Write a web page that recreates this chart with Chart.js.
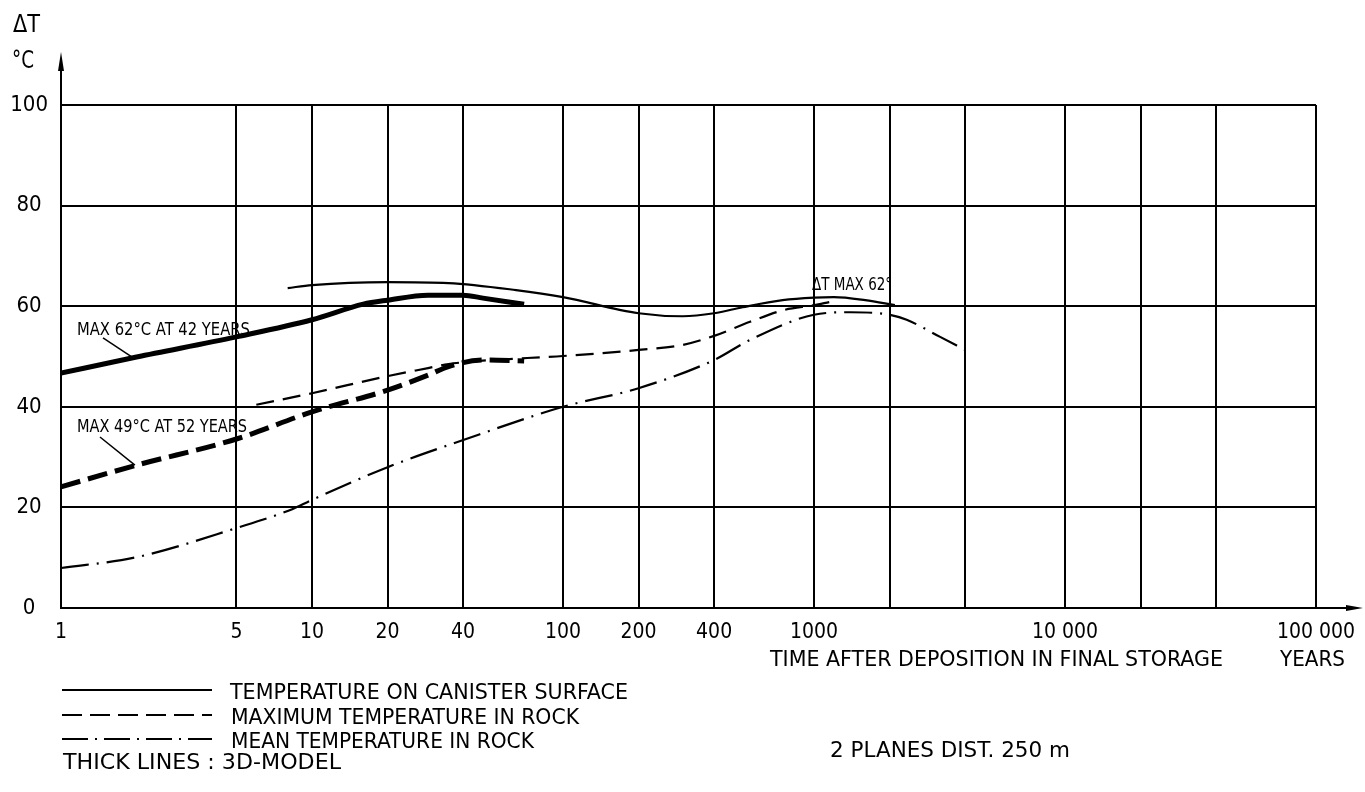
<!DOCTYPE html>
<html><head><meta charset="utf-8">
<script src="https://cdn.jsdelivr.net/npm/chart.js@4.4.1/dist/chart.umd.min.js"></script>
<style>
html,body{margin:0;padding:0;background:#fff;}
#wrap{position:relative;width:1365px;height:792px;overflow:hidden;background:#fff;}
#c{position:absolute;left:0;top:0;}
.t{position:absolute;color:#000;white-space:nowrap;line-height:1;transform-origin:0 50%;}
</style></head><body>
<div id="wrap">
<canvas id="c" width="1365" height="792"></canvas>
<div class="t" style="left:13px;top:12px;font-size:24px" data-w="27">ΔT</div>
<div class="t" style="left:12px;top:48px;font-size:24px" data-w="22">°C</div>
<div class="t" style="left:77px;top:320px;font-size:18px" data-w="173">MAX 62°C AT 42 YEARS</div>
<div class="t" style="left:77px;top:417px;font-size:18px" data-w="170">MAX 49°C AT 52 YEARS</div>
<div class="t" style="left:812px;top:275px;font-size:18px" data-w="80">ΔT MAX 62°</div>
<div class="t" style="left:770px;top:649px;font-size:21px" data-w="453">TIME AFTER DEPOSITION IN FINAL STORAGE</div>
<div class="t" style="left:1280px;top:649px;font-size:21px" data-w="65">YEARS</div>
<div class="t" style="left:230px;top:682px;font-size:21px" data-w="398">TEMPERATURE ON CANISTER SURFACE</div>
<div class="t" style="left:231px;top:707px;font-size:21px" data-w="348">MAXIMUM TEMPERATURE IN ROCK</div>
<div class="t" style="left:231px;top:731px;font-size:21px" data-w="303">MEAN TEMPERATURE IN ROCK</div>
<div class="t" style="left:63px;top:752px;font-size:21px" data-w="278">THICK LINES : 3D-MODEL</div>
<div class="t" style="left:830px;top:740px;font-size:21px" data-w="240">2 PLANES DIST. 250 m</div>
</div>
<script>
// ---------- DATA ----------
const surface2DYears = [8, 10, 20, 35, 65, 100, 200, 300, 400, 520, 750, 1000, 1200, 1600, 2100];
const surface2DTemp  = [63.6, 64.2, 64.8, 64.6, 63.2, 61.8, 58.6, 58.0, 58.6, 59.8, 61.2, 61.7, 61.8, 61.2, 60.2];

const surface3DYears = [1, 2, 5, 10, 16, 20, 29, 40, 48, 70];
const surface3DTemp  = [46.7, 49.9, 53.9, 57.3, 60.4, 61.2, 62.2, 62.2, 61.6, 60.4];

const maxRock2DYears = [6, 10, 20, 29, 35, 72, 100, 200, 300, 400, 556, 753, 1000, 1150];
const maxRock2DTemp  = [40.4, 42.7, 46.1, 47.7, 48.5, 49.7, 50.1, 51.3, 52.3, 54.1, 56.9, 59.2, 60.2, 60.8];

const maxRock3DYears = [1, 2, 5, 10, 20, 29, 35, 48, 70];
const maxRock3DTemp  = [24.1, 28.4, 33.6, 39.0, 43.3, 46.3, 48.0, 49.3, 49.1];

const meanRockYears = [1, 2, 5, 8.2, 10, 20, 39, 100, 200, 400, 556, 1000, 1400, 2000, 2340, 3180, 4000];
const meanRockTemp  = [7.95, 10.1, 15.9, 19.5, 21.5, 28.0, 33.2, 40.0, 43.7, 49.3, 53.3, 58.3, 58.8, 58.3, 57.3, 53.9, 51.3];

const xGridValues = [1, 5, 10, 20, 40, 100, 200, 400, 1000, 2000, 4000, 10000, 20000, 40000, 100000];
const xTickLabels = {1:'1', 5:'5', 10:'10', 20:'20', 40:'40', 100:'100', 200:'200', 400:'400', 1000:'1000', 10000:'10 000', 100000:'100 000'};
const yTickValues = [0, 20, 40, 60, 80, 100];

// leader lines for annotations (years, temp)
const leader62 = [[1.47, 53.7], [1.92, 49.9]];
const leader49 = [[1.43, 34.0], [1.97, 28.4]];

// ---------- FONT PICK ----------
function pickFont(list){
  const c = document.createElement('canvas').getContext('2d');
  const s = 'MAXIMUM TEMPERATURE 0123456789';
  for (const f of list){
    for (const base of ['monospace','serif']){
      c.font = '40px ' + base; const w0 = c.measureText(s).width;
      c.font = '40px "' + f + '", ' + base; const w1 = c.measureText(s).width;
      if (Math.abs(w1 - w0) > 0.5) return f;
    }
  }
  return 'sans-serif';
}
const FONT = pickFont(['Liberation Sans Narrow','DejaVu Sans Condensed','Roboto Condensed','DejaVu Sans','Liberation Sans']);
document.querySelectorAll('.t').forEach(el => {
  el.style.fontFamily = '"' + FONT + '", sans-serif';
  const w = parseFloat(el.dataset.w);
  const aw = el.getBoundingClientRect().width;
  if (w && aw) el.style.transform = 'scaleX(' + (w / aw).toFixed(3) + ')';
});

// ---------- CHART ----------
const pts = (xs, ys) => xs.map((x, i) => ({x: x, y: ys[i]}));
const black = '#000';
const base = {pointRadius: 0, borderColor: black, backgroundColor: black, fill: false, cubicInterpolationMode: 'monotone'};

const decor = {
  id: 'decor',
  afterDraw(chart){
    const {ctx, chartArea: a, scales: {x, y}} = chart;
    ctx.save();
    ctx.strokeStyle = black; ctx.fillStyle = black; ctx.lineWidth = 2; ctx.setLineDash([]);
    // y-axis arrow
    ctx.beginPath(); ctx.moveTo(a.left, a.top); ctx.lineTo(a.left, a.top - 40); ctx.stroke();
    ctx.beginPath(); ctx.moveTo(a.left, a.top - 53); ctx.lineTo(a.left - 3, a.top - 34); ctx.lineTo(a.left + 3, a.top - 34); ctx.closePath(); ctx.fill();
    // x-axis arrow
    ctx.beginPath(); ctx.moveTo(a.right, a.bottom); ctx.lineTo(a.right + 35, a.bottom); ctx.stroke();
    ctx.beginPath(); ctx.moveTo(a.right + 47, a.bottom); ctx.lineTo(a.right + 30, a.bottom - 3); ctx.lineTo(a.right + 30, a.bottom + 3); ctx.closePath(); ctx.fill();
    // leader lines
    ctx.lineWidth = 1.5;
    [leader62, leader49].forEach(l => {
      ctx.beginPath();
      ctx.moveTo(x.getPixelForValue(l[0][0]), y.getPixelForValue(l[0][1]));
      ctx.lineTo(x.getPixelForValue(l[1][0]), y.getPixelForValue(l[1][1]));
      ctx.stroke();
    });
    // legend samples
    ctx.lineWidth = 2.2;
    const rows = [[690, []], [715, [20, 8]], [739, [26, 7, 2, 7]]];
    rows.forEach(r => {
      ctx.setLineDash(r[1]);
      ctx.beginPath(); ctx.moveTo(62, r[0]); ctx.lineTo(212, r[0]); ctx.stroke();
    });
    ctx.restore();
  }
};

new Chart(document.getElementById('c'), {
  type: 'line',
  data: {
    datasets: [
      Object.assign({label: 'Temperature on canister surface', data: pts(surface2DYears, surface2DTemp), borderWidth: 2.2}, base),
      Object.assign({label: 'Temperature on canister surface (3D)', data: pts(surface3DYears, surface3DTemp), borderWidth: 5}, base),
      Object.assign({label: 'Maximum temperature in rock', data: pts(maxRock2DYears, maxRock2DTemp), borderWidth: 2.2, borderDash: [18, 9]}, base),
      Object.assign({label: 'Maximum temperature in rock (3D)', data: pts(maxRock3DYears, maxRock3DTemp), borderWidth: 5, borderDash: [20, 8]}, base),
      Object.assign({label: 'Mean temperature in rock', data: pts(meanRockYears, meanRockTemp), borderWidth: 2.2, borderDash: [28, 8, 2, 8]}, base)
    ]
  },
  options: {
    responsive: false,
    animation: false,
    devicePixelRatio: 1,
    layout: {padding: {left: 0, top: 105, right: 49, bottom: 144}},
    plugins: {legend: {display: false}, tooltip: {enabled: false}},
    scales: {
      x: {
        type: 'logarithmic', min: 1, max: 100000,
        afterBuildTicks: s => { s.ticks = xGridValues.map(v => ({value: v})); },
        afterFit: s => { s.height = 40; s.paddingLeft = 0; s.paddingRight = 0; },
        grid: {color: black, lineWidth: 2, drawTicks: false},
        border: {color: black, width: 2},
        ticks: {
          autoSkip: false, maxRotation: 0, color: black, padding: 12,
          font: {size: 21, family: FONT},
          callback: v => xTickLabels[v] || ''
        }
      },
      y: {
        min: 0, max: 100,
        afterBuildTicks: s => { s.ticks = yTickValues.map(v => ({value: v})); },
        afterFit: s => { s.width = 61; s.paddingTop = 0; s.paddingBottom = 0; },
        grid: {color: black, lineWidth: 2, drawTicks: false},
        border: {color: black, width: 2},
        ticks: {color: black, padding: 13, crossAlign: 'center', font: {size: 22, family: FONT}}
      }
    }
  },
  plugins: [decor]
});
</script>
</body></html>
